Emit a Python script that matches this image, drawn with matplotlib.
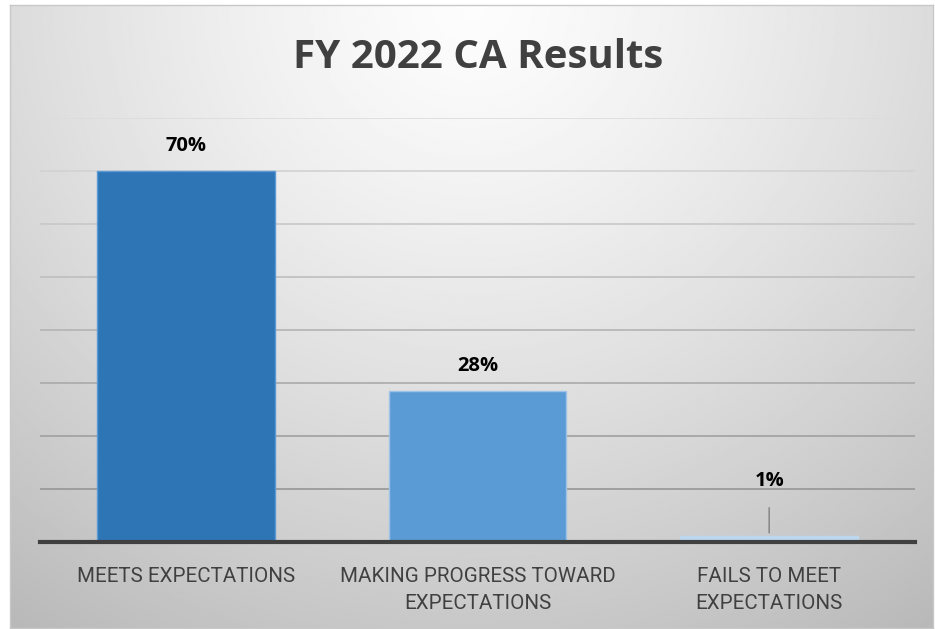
import numpy as np
import matplotlib.pyplot as plt

# data
categories = ["MEETS EXPECTATIONS", "MAKING PROGRESS TOWARD\nEXPECTATIONS",
              "FAILS TO MEET\nEXPECTATIONS"]
values = [0.70, 0.284, 0.012]
bar_colors = ["#2E75B6", "#5B9BD5", "#BDD7EE"]
edge_colors = ["#5B9BD5", "#9DC3E6", "#BDD7EE"]
title = "FY 2022 CA Results"

W, H = 935, 629
fig = plt.figure(figsize=(W / 100, H / 100), dpi=100)
fig.patch.set_facecolor("white")

# radial gradient chart background
bg = fig.add_axes([10 / W, 1 - 628 / H, 923 / W, 623 / H])
yy, xx = np.mgrid[0:1:300j, 0:1:450j]
r = np.sqrt(((xx - 0.5) / 0.75) ** 2 + ((yy - 0.0) / 1.05) ** 2)
shade = 0.99 - 0.22 * np.clip(r, 0, 1.2) ** 1.3
bg.imshow(shade, cmap="gray", vmin=0, vmax=1, aspect="auto",
          extent=[0, 1, 1, 0], interpolation="bilinear")
bg.set_xticks([])
bg.set_yticks([])
for s in bg.spines.values():
    s.set_color("#c8c8c8")
    s.set_linewidth(1.0)

ax = fig.add_axes([40 / W, 1 - 542 / H, 875 / W, 424 / H])
ax.patch.set_alpha(0)
x = np.arange(len(categories))
bars = ax.bar(x, values, width=0.61, color=bar_colors,
              edgecolor=edge_colors, linewidth=1.0, zorder=3)
ax.set_xlim(-0.5, len(categories) - 0.5)
ax.set_ylim(0, 0.8)
ax.set_yticks(np.arange(0.1, 0.81, 0.1))
ax.tick_params(axis="y", length=0, labelleft=False)
ax.tick_params(axis="x", length=0, pad=18)
ax.set_xticks(x)
ax.set_xticklabels(categories, fontsize=14.8, color="#404040",
                   family="Roboto", linespacing=1.55)
ax.yaxis.grid(True, linewidth=1.2, zorder=0)
grid_cols = ["#969696", "#a0a0a0", "#aaaaaa", "#b4b4b4", "#bebebe",
             "#c8c8c8", "#d2d2d2", "#dcdcdc"]
for gl, c in zip(ax.get_ygridlines(), grid_cols):
    gl.set_color(c)
for s in ["left", "right", "top"]:
    ax.spines[s].set_visible(False)
ax.spines["bottom"].set_color("#404040")
ax.spines["bottom"].set_linewidth(3)
ax.spines["bottom"].set_zorder(4)

# data labels
for i, v in enumerate(values):
    lab = f"{v:.0%}"
    if v < 0.05:
        ax.annotate(lab, xy=(i, v), xytext=(i, 0.115), ha="center",
                    va="center", fontsize=14.5, fontweight="bold",
                    color="black", family="Open Sans",
                    arrowprops=dict(arrowstyle="-", color="#7f7f7f",
                                    lw=1.0, shrinkA=10, shrinkB=2))
    else:
        ax.annotate(lab, xy=(i, v), xytext=(0, 18), textcoords="offset points",
                    ha="center", va="center", fontsize=14.5, fontweight="bold",
                    color="black", family="Open Sans")

fig.text(478 / W, 1 - 57 / H, title, ha="center", va="center",
         fontsize=29, fontweight="bold", color="#404040", family="Open Sans")

fig.savefig("out.png", dpi=100)
